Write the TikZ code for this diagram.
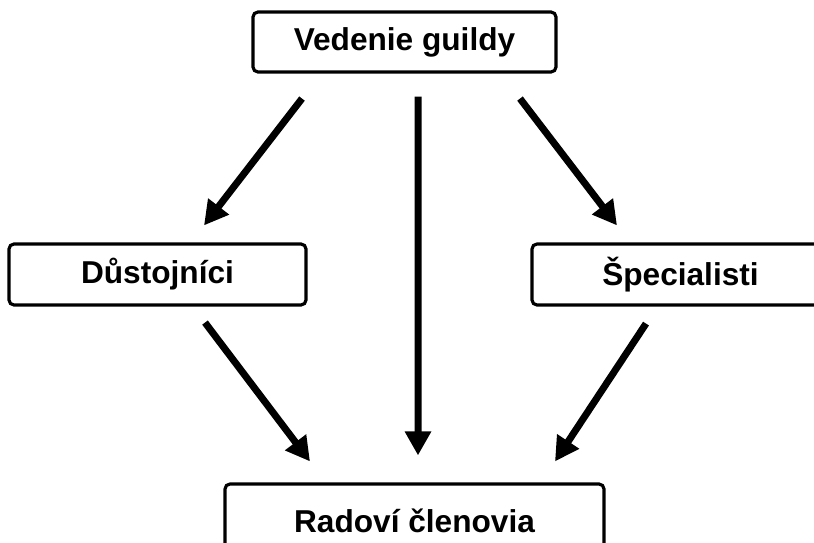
\documentclass[tikz,border=0pt]{standalone}
\usepackage{fontspec}
\setmainfont{Liberation Sans}
\usetikzlibrary{arrows.meta}
\begin{document}
\begin{tikzpicture}[>={Triangle[length=0.24cm,width=0.25cm]},
 box/.style={draw, line width=0.9pt, rounded corners=0.05cm, align=center, font=\fontsize{9}{11}\selectfont\bfseries},
 arr/.style={->, line width=0.07cm}]
\useasboundingbox (0,0) rectangle (8.14,5.42);
\node[box, minimum width=3.03cm, minimum height=0.6cm] (vg) at (4.045,5.0) {Vedenie guildy};
\node[box, minimum width=2.97cm, minimum height=0.61cm] (ds) at (1.575,2.675) {Důstojníci};
\node[box, minimum width=2.97cm, minimum height=0.61cm] (sp) at (6.805,2.675) {Špecialisti};
\node[box, minimum width=3.79cm, minimum height=0.74cm] (rc) at (4.145,0.21) {Radoví členovia};

\draw[arr]([shift={(-1.025,-0.25)}]vg.south)--([shift={(0.465,0.17)}]ds.north);
\draw[arr]([shift={(0.135,-0.23)}]vg.south)--([shift={(0.035,0.27)}]rc.north);
\draw[arr]([shift={(1.155,-0.25)}]vg.south)--([shift={(-0.635,0.17)}]sp.north);
\draw[arr]([shift={(0.475,-0.16)}]ds.south)--([shift={(-1.045,0.21)}]rc.north);
\draw[arr]([shift={(-0.345,-0.17)}]sp.south)--([shift={(1.405,0.21)}]rc.north);

\end{tikzpicture}
\end{document}
